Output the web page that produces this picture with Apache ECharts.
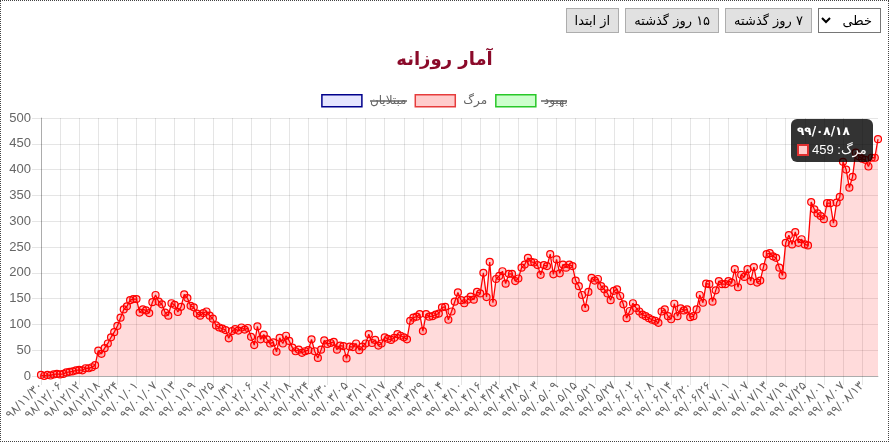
<!DOCTYPE html>
<html>
<head>
<meta charset="utf-8">
<script src="https://cdn.jsdelivr.net/npm/echarts@6/dist/echarts.min.js"></script>
<style>
  html, body { margin: 0; padding: 0; background: #fff; }
  #frame { position: relative; width: 887px; height: 440px; border: 1px dotted #444; overflow: hidden; }
  #chart { position: absolute; left: 0; top: 0; width: 887px; height: 440px; }
  #controls { position: absolute; top: 7px; right: 7px; display: flex; flex-direction: row-reverse; gap: 6px; z-index: 5; direction: ltr; }
  #controls select { width: 63px; height: 25px; font-family: 'DejaVu Sans', sans-serif; font-size: 13px; border: 1px solid #767676; background: #fff; border-radius: 0; padding: 0 4px; }
  #controls button { height: 25px; font-family: 'DejaVu Sans', sans-serif; font-size: 13px; background: #e1e1e1; border: 1px solid #adadad; border-radius: 0; padding: 0 8px; color: #000; }
</style>
</head>
<body>
<div id="frame">
  <div id="chart"></div>
  <div id="controls">
    <select dir="rtl"><option>خطی</option></select>
    <button dir="rtl">۷ روز گذشته</button>
    <button dir="rtl">۱۵ روز گذشته</button>
    <button dir="rtl">از ابتدا</button>
  </div>
</div>
<script>
// ---- data ----
const startDate = [1398, 11, 30];          // first category (Persian calendar)
const dayCount = 264;                        // 98/11/30 .. 99/08/18
const legendNames = ['مبتلایان', 'مرگ', 'بهبود'];
const titleText = 'آمار روزانه';
const yTicks = [0, 50, 100, 150, 200, 250, 300, 350, 400, 450, 500];

const deaths = [
  2, 0, 2, 1, 3, 4, 3, 4, 7, 8,
  9, 11, 12, 11, 15, 15, 17, 21, 49, 43,
  54, 63, 75, 85, 97, 113, 129, 135, 147, 149,
  149, 123, 129, 127, 122, 143, 157, 144, 139, 123, 117, 141,
  138, 124, 134, 158, 151, 136, 133, 121, 117, 122, 125, 117, 111, 98, 94, 92, 89, 73, 87, 91, 88, 94, 90, 93, 76, 60, 96, 71, 80, 71,
  63, 65, 47, 74, 63, 78, 68, 55, 48, 51, 45, 48, 50, 71, 48, 35, 51, 69, 62, 64, 66, 51, 59, 58, 34, 57, 56, 63, 50, 57, 63,
  81, 64, 70, 59, 63, 75, 72, 70, 74, 81, 78, 75, 71, 107, 113, 115, 120, 87, 120, 115, 116, 119, 121, 133, 134, 109, 125, 144, 162, 147,
  141, 148, 154, 148, 163, 160, 200, 153, 221, 142, 188, 194, 203, 179, 198, 198, 184, 189, 210, 216, 229, 221, 220, 215, 196, 215, 213, 236, 197, 226, 199,
  216, 210, 216, 213, 185, 174, 157, 132, 163, 190, 185, 188, 174, 168, 160, 147, 165, 168, 155, 139, 112, 126, 141, 132, 125, 119, 116, 112, 109, 107, 103,
  125, 129, 116, 110, 140, 116, 131, 127, 129, 114, 116, 129, 157, 142, 179, 178, 144, 166, 184, 178, 178, 184, 181, 207, 172, 196, 192, 207, 184, 211,
  181, 185, 211, 236, 238, 232, 229, 210, 195, 258, 273, 255, 279, 258, 265, 255, 253, 337, 323, 315, 310, 304, 335, 335, 296, 336, 347, 415, 400, 365, 386,
  433, 426, 421, 419, 406, 423, 423, 459
];
const infected = [];   // hidden series
const recovered = [];  // hidden series

// ---- categories (Persian calendar dates) ----
function monthLen(y, m) {
  if (m <= 6) return 31;
  if (m <= 11) return 30;
  return (y === 1399) ? 30 : 29;
}
const faDigits = '۰۱۲۳۴۵۶۷۸۹';
function toFa(s) { return String(s).replace(/\d/g, d => faDigits[+d]); }
function pad(n) { return n < 10 ? '0' + n : '' + n; }
const categories = [];
(function () {
  let [y, m, d] = startDate;
  for (let i = 0; i < dayCount; i++) {
    categories.push(toFa((y % 100) + '/' + pad(m) + '/' + pad(d)));
    d++;
    if (d > monthLen(y, m)) { d = 1; m++; if (m > 12) { m = 1; y++; } }
  }
})();

// ---- chart ----
const chart = echarts.init(document.getElementById('chart'));
const fontFam = "'Liberation Sans', Arial, 'DejaVu Sans', sans-serif";
const gridC = 'rgba(0,0,0,0.1)';

chart.setOption({
  animation: false,
  title: {
    text: titleText, left: 'center', top: 45,
    textStyle: { color: '#8b0a2a', fontSize: 18, fontWeight: 'bold', fontFamily: "'DejaVu Sans', sans-serif" }
  },
  legend: {
    top: 88, left: 'center',
    itemWidth: 40, itemHeight: 12, itemGap: 8,
    icon: 'rect',
    textStyle: { color: '#666', fontSize: 12, fontFamily: "'DejaVu Sans', sans-serif", padding: [0, 0, 0, 3] },
    selectedMode: false,
    data: [
      { name: legendNames[0], itemStyle: { color: 'rgba(0,0,255,0.1)', borderColor: '#00008b', borderWidth: 1.5 } },
      { name: legendNames[1], itemStyle: { color: 'rgba(255,0,0,0.2)', borderColor: 'rgb(230,60,60)', borderWidth: 1.5 } },
      { name: legendNames[2], itemStyle: { color: 'rgba(0,255,0,0.2)', borderColor: 'rgb(40,200,40)', borderWidth: 1.5 } }
    ]
  },
  grid: { left: 40, right: 10, top: 117, bottom: 65, containLabel: false },
  tooltip: {
    trigger: 'item',
    triggerOn: 'none',
    alwaysShowContent: true,
    backgroundColor: 'rgba(0,0,0,0.8)',
    borderWidth: 0,
    padding: [5, 6, 5, 6],
    textStyle: { color: '#fff', fontSize: 12 },
    extraCssText: 'border-radius:6px; box-shadow:none;',
    position: function (point, params, dom, rect, size) {
      return [point[0] - size.contentSize[0] - 5, point[1] - 20];
    },
    formatter: function (p) {
      return '<div style="font-family:DejaVu Sans,sans-serif;font-weight:bold;font-size:12px;line-height:14px;margin-bottom:4px;text-align:left">' + categories[p.dataIndex] + '</div>' +
        '<div style="display:flex;align-items:center;font-size:13px;line-height:15px">' +
        '<span style="display:inline-block;width:12px;height:12px;background:#ffcccc;border:2px solid #e03030;box-sizing:border-box;margin-right:3px"></span>' +
        '<span dir="rtl" style="font-family:Liberation Sans,DejaVu Sans,sans-serif">' + p.seriesName + ': ' + p.value + '</span></div>';
    }
  },
  xAxis: {
    type: 'category',
    data: categories,
    boundaryGap: false,
    axisLine: { lineStyle: { color: 'rgba(0,0,0,0.25)' } },
    axisTick: { show: true, interval: 5, length: 9, lineStyle: { color: gridC } },
    splitLine: { show: true, interval: 5, lineStyle: { color: gridC } },
    axisLabel: { interval: 5, rotate: 45, margin: 8, color: '#666', fontSize: 12, fontFamily: "'DejaVu Sans', sans-serif" }
  },
  yAxis: {
    type: 'value', min: yTicks[0], max: yTicks[yTicks.length - 1], interval: 50,
    axisLine: { show: true, lineStyle: { color: 'rgba(0,0,0,0.25)' } },
    axisTick: { show: true, length: 9, lineStyle: { color: gridC } },
    splitLine: { lineStyle: { color: gridC } },
    axisLabel: { color: '#666', fontSize: 13, margin: 10, fontFamily: fontFam }
  },
  series: [
    { name: legendNames[0], type: 'line', data: infected, itemStyle: { color: 'rgba(0,0,255,0.1)', borderColor: '#00008b' } },
    {
      name: legendNames[1], type: 'line', data: deaths,
      symbol: 'circle', symbolSize: 7, showAllSymbol: true,
      lineStyle: { color: 'rgb(255,0,0)', width: 1.3 },
      itemStyle: { color: 'rgba(255,0,0,0.2)', borderColor: 'rgb(255,0,0)', borderWidth: 1.2 },
      areaStyle: { color: 'rgba(255,0,0,0.2)', origin: 'start' },
      emphasis: { scale: 1.3, itemStyle: { color: 'rgba(255,0,0,0.2)', borderColor: 'rgb(255,0,0)' } }
    },
    { name: legendNames[2], type: 'line', data: recovered, itemStyle: { color: 'rgba(0,255,0,0.2)', borderColor: '#22cc22' } }
  ],
  graphic: [
    { type: 'line', shape: { x1: 369, y1: 100, x2: 406, y2: 100 }, style: { stroke: '#666', lineWidth: 1.5 }, z: 100 },
    { type: 'line', shape: { x1: 540, y1: 100, x2: 566, y2: 100 }, style: { stroke: '#666', lineWidth: 1.5 }, z: 100 }
  ]
});
chart.dispatchAction({ type: 'showTip', seriesIndex: 1, dataIndex: deaths.length - 1 });
</script>
</body>
</html>
